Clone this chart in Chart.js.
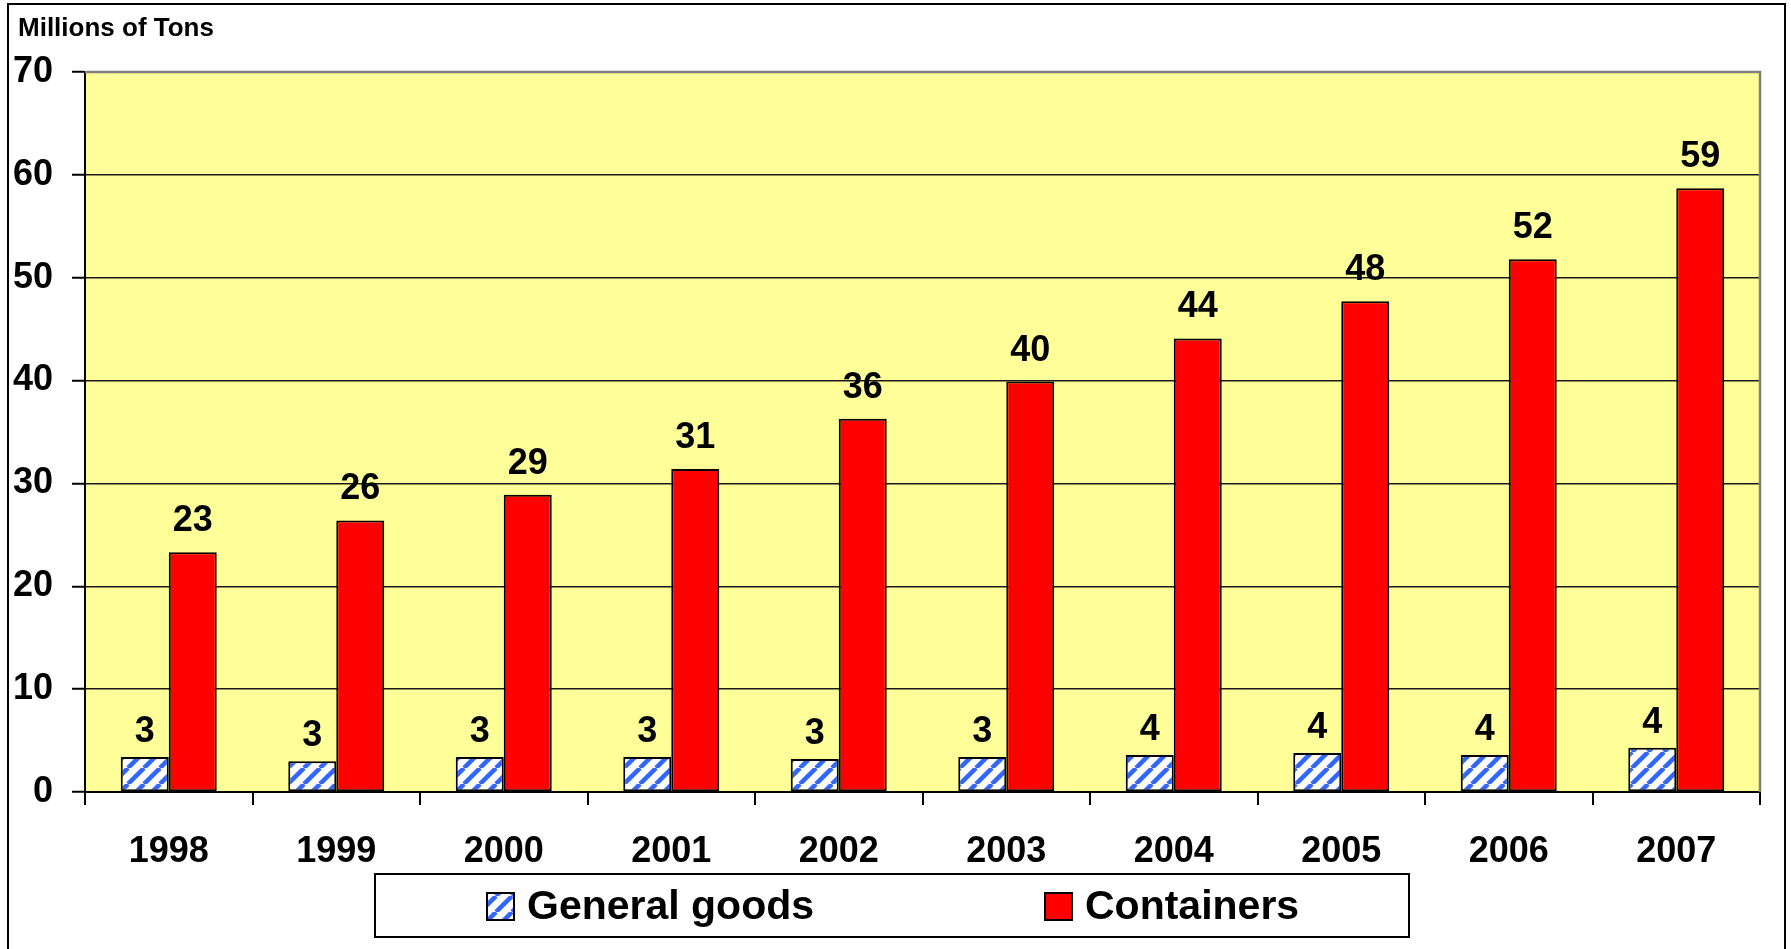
<!DOCTYPE html>
<html>
<head>
<meta charset="utf-8">
<title>Millions of Tons</title>
<script src="https://cdn.jsdelivr.net/npm/chart.js@4/dist/chart.umd.min.js"></script>
<style>
  html, body { margin: 0; padding: 0; background: #fff; }
  #wrap { width: 1791px; height: 949px; }
</style>
</head>
<body>
<div id="wrap"><canvas id="tonsChart" width="1791" height="949"></canvas></div>
<script>
var years = ['1998', '1999', '2000', '2001', '2002', '2003', '2004', '2005', '2006', '2007'];
var generalGoods = [3.4, 3.0, 3.4, 3.4, 3.2, 3.4, 3.6, 3.8, 3.6, 4.3];
var containers = [23.3, 26.4, 28.9, 31.4, 36.3, 39.9, 44.1, 47.7, 51.8, 58.7];
var yTicks = [0, 10, 20, 30, 40, 50, 60, 70];
var seriesNames = ['General goods', 'Containers'];

var FONT = '"Liberation Sans", Arial, Helvetica, sans-serif';
Chart.defaults.font.family = FONT;
Chart.defaults.color = '#000';

var canvas = document.getElementById('tonsChart');
var ctx = canvas.getContext('2d');

// blue diagonal stripes on white
function makeHatch() {
    var c = document.createElement('canvas');
    c.width = 16;
    c.height = 16;
    var g = c.getContext('2d');
    g.fillStyle = '#ffffff';
    g.fillRect(0, 0, 16, 16);
    g.strokeStyle = '#3366ff';
    g.lineWidth = 4.5;
    [-16, 0, 16].forEach(function (o) {
        g.beginPath();
        g.moveTo(o, 16);
        g.lineTo(o + 16, 0);
        g.stroke();
    });
    return ctx.createPattern(c, 'repeat');
}
var hatch = makeHatch();

// yellow plot area, grey top/right border, outer frame and heading
var decorations = {
    id: 'decorations',
    beforeDraw: function (chart) {
        var a = chart.chartArea;
        var c = chart.ctx;
        c.save();
        c.fillStyle = '#ffff99';
        c.fillRect(a.left, a.top, a.right - a.left, a.bottom - a.top);
        c.restore();
    },
    afterDraw: function (chart) {
        var a = chart.chartArea;
        var c = chart.ctx;
        c.save();
        c.strokeStyle = '#808080';
        c.lineWidth = 2.5;
        c.beginPath();
        c.moveTo(a.left, a.top);
        c.lineTo(a.right, a.top);
        c.lineTo(a.right, a.bottom);
        c.stroke();

        c.strokeStyle = '#000';
        c.lineWidth = 2;
        c.strokeRect(8, 4, 1777, 970);

        c.fillStyle = '#000';
        c.font = 'bold 26px ' + FONT;
        c.textAlign = 'left';
        c.textBaseline = 'alphabetic';
        c.fillText('Millions of Tons', 18, 36);

        // legend box
        c.lineWidth = 2;
        c.strokeRect(375, 874, 1034, 63);
        var items = [
            { x: 487, fill: hatch, label: seriesNames[0] },
            { x: 1045, fill: '#ff0000', label: seriesNames[1] }
        ];
        c.font = 'bold 41px ' + FONT;
        c.textBaseline = 'middle';
        items.forEach(function (it) {
            c.fillStyle = it.fill;
            c.fillRect(it.x, 893, 27, 27);
            c.strokeStyle = '#000';
            c.lineWidth = 2;
            c.strokeRect(it.x, 893, 27, 27);
            c.fillStyle = '#000';
            c.fillText(it.label, it.x + 40, 908);
        });
        c.restore();
    }
};

// value labels above each bar
var valueLabels = {
    id: 'valueLabels',
    afterDatasetsDraw: function (chart) {
        var c = chart.ctx;
        c.save();
        c.font = 'bold 36px ' + FONT;
        c.fillStyle = '#000';
        c.textAlign = 'center';
        c.textBaseline = 'alphabetic';
        chart.data.datasets.forEach(function (ds, i) {
            var gap = i === 0 ? 15 : 21;
            chart.getDatasetMeta(i).data.forEach(function (bar, j) {
                c.fillText(Math.round(ds.data[j]), bar.x, bar.y - gap);
            });
        });
        c.restore();
    }
};

new Chart(ctx, {
    type: 'bar',
    data: {
        labels: years,
        datasets: [{
            label: seriesNames[0],
            data: generalGoods,
            backgroundColor: hatch,
            borderColor: '#000',
            borderWidth: 2,
            borderSkipped: false,
            categoryPercentage: 0.573,
            barPercentage: 1
        }, {
            label: seriesNames[1],
            data: containers,
            backgroundColor: '#ff0000',
            borderColor: '#000',
            borderWidth: 2,
            borderSkipped: false,
            categoryPercentage: 0.573,
            barPercentage: 1
        }]
    },
    options: {
        responsive: false,
        animation: false,
        devicePixelRatio: 1,
        layout: { padding: { left: 0, top: 72, right: 31, bottom: 0 } },
        plugins: {
            legend: { display: false },
            tooltip: { enabled: false }
        },
        scales: {
            x: {
                afterFit: function (s) { s.height = 157; },
                grid: {
                    offset: true,
                    drawOnChartArea: false,
                    tickLength: 13,
                    color: '#000',
                    lineWidth: 2
                },
                border: { color: '#000', width: 2 },
                ticks: {
                    font: { size: 36, weight: 'bold' },
                    color: '#000',
                    padding: 25
                }
            },
            y: {
                min: 0,
                max: 70,
                afterFit: function (s) { s.width = 85; },
                afterBuildTicks: function (s) {
                    s.ticks = yTicks.map(function (v) { return { value: v }; });
                },
                grid: {
                    color: '#1a1a1a',
                    lineWidth: 1.5,
                    tickLength: 13,
                    tickColor: '#000',
                    tickWidth: 2
                },
                border: { color: '#000', width: 2 },
                ticks: {
                    font: { size: 36, weight: 'bold' },
                    color: '#000',
                    padding: 19
                }
            }
        }
    },
    plugins: [decorations, valueLabels]
});
</script>
</body>
</html>
